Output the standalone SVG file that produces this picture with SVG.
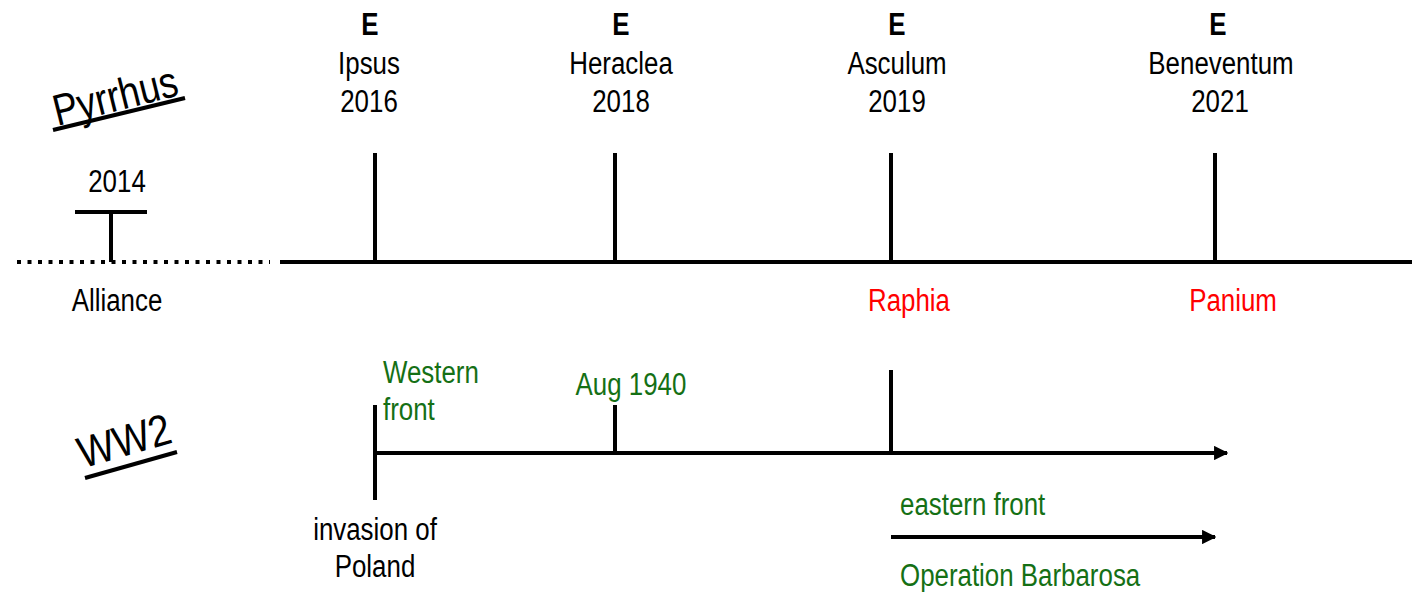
<svg xmlns="http://www.w3.org/2000/svg" width="1412" height="592" viewBox="0 0 1412 592">
<defs>
<style>
text{font-family:"Liberation Sans Narrow","Liberation Sans",Arial,sans-serif;font-size:31px;fill:#000}
.c{text-anchor:middle}
.b{font-weight:bold}
.r{fill:#ff0000}
.g{fill:#157015}
.big{font-size:44px}
.ln{stroke:#000;stroke-width:4;fill:none}
</style>
<marker id="ah" viewBox="0 0 10 10" refX="9" refY="5" markerWidth="3.6" markerHeight="3.6" orient="auto" markerUnits="strokeWidth">
<path d="M0,0 L10,5 L0,10 z" fill="#000"/>
</marker>
</defs>
<rect width="1412" height="592" fill="#fff"/>
<g id="connectors">
<line class="ln" x1="17" y1="262" x2="270" y2="262" stroke-dasharray="4 6.5"/>
<line class="ln" x1="280" y1="262" x2="1412" y2="262"/>
<line class="ln" x1="375" y1="453" x2="1227" y2="453" marker-end="url(#ah)"/>
<line class="ln" x1="891" y1="537" x2="1215" y2="537" marker-end="url(#ah)"/>
</g>
<g id="pyrrhus-label">
<text x="115" y="111" class="c big" transform="rotate(-14 115 95)" textLength="127" lengthAdjust="spacingAndGlyphs">Pyrrhus</text>
<line class="ln" x1="53" y1="130" x2="185" y2="98"/>
</g>
<g id="ww2-label">
<text x="124" y="456" class="c big" transform="rotate(-16 124 440)" textLength="95" lengthAdjust="spacingAndGlyphs">WW2</text>
<line class="ln" x1="85" y1="478" x2="177" y2="452"/>
</g>
<g id="alliance">
<line class="ln" x1="75" y1="212" x2="147" y2="212"/>
<line class="ln" x1="111" y1="212" x2="111" y2="262"/>
<text transform="translate(117,192) scale(0.835,1)" class="c">2014</text>
<text transform="translate(117,311) scale(0.835,1)" class="c">Alliance</text>
</g>
<g id="ipsus">
<line class="ln" x1="375" y1="153" x2="375" y2="262"/>
<text transform="translate(370,35) scale(0.835,1)" class="c b">E</text>
<text transform="translate(369,74) scale(0.835,1)" class="c">Ipsus</text>
<text transform="translate(369,112) scale(0.835,1)" class="c">2016</text>
</g>
<g id="heraclea">
<line class="ln" x1="615" y1="153" x2="615" y2="262"/>
<text transform="translate(621,35) scale(0.835,1)" class="c b">E</text>
<text transform="translate(621,74) scale(0.835,1)" class="c">Heraclea</text>
<text transform="translate(621,112) scale(0.835,1)" class="c">2018</text>
</g>
<g id="asculum">
<line class="ln" x1="891" y1="153" x2="891" y2="262"/>
<text transform="translate(897,35) scale(0.835,1)" class="c b">E</text>
<text transform="translate(897,74) scale(0.835,1)" class="c">Asculum</text>
<text transform="translate(897,112) scale(0.835,1)" class="c">2019</text>
<text transform="translate(909,311) scale(0.835,1)" class="c r">Raphia</text>
</g>
<g id="beneventum">
<line class="ln" x1="1215" y1="153" x2="1215" y2="262"/>
<text transform="translate(1218,35) scale(0.835,1)" class="c b">E</text>
<text transform="translate(1221,74) scale(0.835,1)" class="c">Beneventum</text>
<text transform="translate(1220,112) scale(0.835,1)" class="c">2021</text>
<text transform="translate(1233,311) scale(0.835,1)" class="c r">Panium</text>
</g>
<g id="invasion">
<line class="ln" x1="375" y1="405" x2="375" y2="500"/>
<text transform="translate(383,383) scale(0.835,1)" class="g">Western</text>
<text transform="translate(383,420) scale(0.835,1)" class="g">front</text>
<text transform="translate(375,540) scale(0.835,1)" class="c">invasion of</text>
<text transform="translate(375,577) scale(0.835,1)" class="c">Poland</text>
</g>
<g id="aug1940">
<line class="ln" x1="615" y1="405" x2="615" y2="453"/>
<text transform="translate(631,395) scale(0.835,1)" class="c g">Aug 1940</text>
</g>
<g id="eastern">
<line class="ln" x1="891" y1="370" x2="891" y2="453"/>
<text transform="translate(900,515) scale(0.835,1)" class="g">eastern front</text>
<text transform="translate(900,586) scale(0.835,1)" class="g">Operation Barbarosa</text>
</g>
</svg>
